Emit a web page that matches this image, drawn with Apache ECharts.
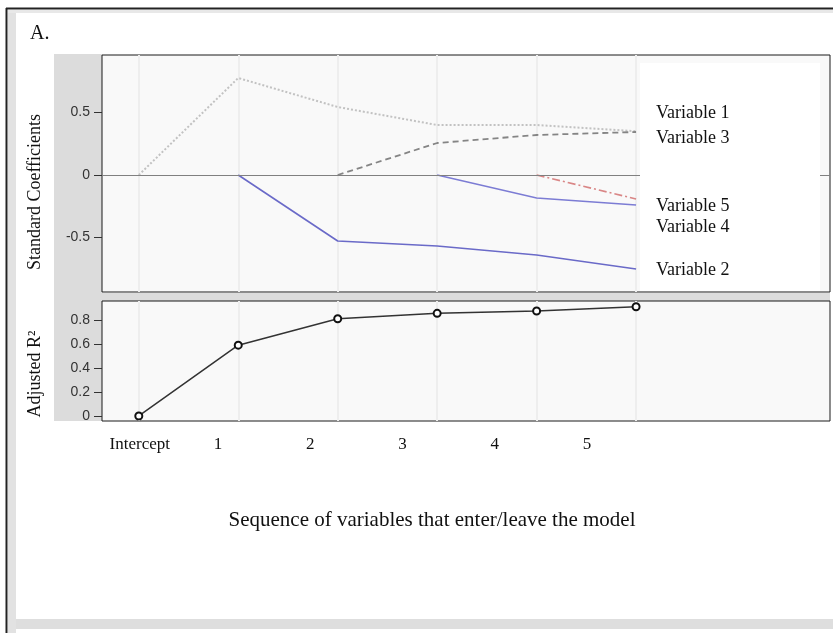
<!DOCTYPE html>
<html><head><meta charset="utf-8">
<script src="https://cdn.jsdelivr.net/npm/echarts@6/dist/echarts.min.js"></script>
<style>html,body{margin:0;padding:0;background:#fff}#c{width:833px;height:633px}</style>
</head><body><div id="c"></div>
<script>
// ---- data ----
const steps = [0, 1, 2, 3, 4, 5];
const tickLabels = ['Intercept', '1', '2', '3', '4', '5'];
const variable1 = [0, 0.776, 0.544, 0.40, 0.40, 0.35];
const variable2 = [null, 0, -0.528, -0.568, -0.64, -0.752];
const variable3 = [null, null, 0, 0.256, 0.32, 0.344];
const variable4 = [null, null, null, 0, -0.184, -0.24];
const variable5 = [null, null, null, null, 0, -0.192];
const adjR2 = [0, 0.59, 0.81, 0.855, 0.875, 0.91];
const coefTicks = [-0.5, 0, 0.5];
const r2Ticks = [0, 0.2, 0.4, 0.6, 0.8];
const labelOrder = ['Variable 1', 'Variable 3', 'Variable 5', 'Variable 4', 'Variable 2'];

const SERIF = '"Liberation Serif","Times New Roman",serif';
const SANS = '"Liberation Sans",Arial,sans-serif';

function pairs(vals) {
  const out = [];
  vals.forEach((v, i) => { if (v !== null) out.push([steps[i], v]); });
  return out;
}

const chart = echarts.init(document.getElementById('c'), null, {renderer: 'canvas'});

const hiddenX = (gi) => ({
  gridIndex: gi, type: 'value', min: -0.37, max: 6.95,
  axisLine: {show: false, onZero: false}, axisLabel: {show: false},
  axisTick: {show: false, customValues: steps},
  splitLine: {show: true, lineStyle: {color: '#eeeeee', width: 2}}
});

const yAx = (gi, min, max, ticks) => ({
  gridIndex: gi, type: 'value', min: min, max: max,
  axisLine: {show: false, onZero: false},
  axisTick: {show: true, length: 8, customValues: ticks, lineStyle: {color: '#333', width: 1}},
  axisLabel: {show: true, customValues: ticks, margin: 12, color: '#333', fontFamily: SANS, fontSize: 14},
  splitLine: {show: false}
});

const coefSeries = (name, vals, color, type, width) => ({
  name: name, type: 'line', xAxisIndex: 0, yAxisIndex: 0,
  data: pairs(vals), symbol: 'none', silent: true,
  lineStyle: {color: color, type: type, width: width}
});

const s1 = coefSeries('Variable 1', variable1, '#c2c2c2', 'dotted', 2);
s1.markLine = {silent: true, symbol: 'none', label: {show: false},
  lineStyle: {color: '#808080', type: 'solid', width: 1}, data: [{yAxis: 0}]};

const labelY = [113, 138, 206, 227, 270];

const option = {
  animation: false,
  backgroundColor: '#ffffff',
  grid: [
    {left: 102, top: 55, width: 728, height: 237, show: true, backgroundColor: '#f9f9f9', borderColor: '#1a1a1a', borderWidth: 1, outerBoundsMode: 'none'},
    {left: 102, top: 301, width: 728, height: 120, show: true, backgroundColor: '#f9f9f9', borderColor: '#1a1a1a', borderWidth: 1, outerBoundsMode: 'none'},
    {left: 125.75, top: 420, width: 461.25, height: 1, show: false, outerBoundsMode: 'none'}
  ],
  xAxis: [
    hiddenX(0),
    hiddenX(1),
    {gridIndex: 2, type: 'category', data: tickLabels, boundaryGap: false,
     axisLine: {show: false}, axisTick: {show: false}, splitLine: {show: false},
     axisLabel: {show: true, interval: 0, margin: 15, color: '#111', fontFamily: SERIF, fontSize: 17,
       formatter: (v, i) => i === 0 ? '{i|' + v + '}' : v,
       rich: {i: {fontFamily: SERIF, fontSize: 17, color: '#111', padding: [0, 0, 0, 28]}}}}
  ],
  yAxis: [
    yAx(0, -0.936, 0.96, coefTicks),
    yAx(1, -0.042, 0.958, r2Ticks),
    {gridIndex: 2, type: 'value', show: false}
  ],
  series: [
    s1,
    coefSeries('Variable 3', variable3, '#858585', [6, 4], 1.8),
    coefSeries('Variable 2', variable2, '#6a6ac8', 'solid', 1.6),
    coefSeries('Variable 4', variable4, '#7c7cd4', 'solid', 1.4),
    coefSeries('Variable 5', variable5, '#d98686', [8, 3, 2, 3], 1.6),
    {name: 'Adjusted R2', type: 'line', xAxisIndex: 1, yAxisIndex: 1,
     data: pairs(adjR2), symbol: 'circle', symbolSize: 7, silent: true,
     itemStyle: {color: '#ffffff', borderColor: '#111', borderWidth: 2},
     lineStyle: {color: '#333', width: 1.5}}
  ],
  graphic: [
    // outer frame
    {type: 'rect', shape: {x: 8, y: 10, width: 8, height: 623}, style: {fill: '#e2e2e2'}, z: -5},
    {type: 'rect', shape: {x: 8, y: 10, width: 825, height: 3}, style: {fill: '#e8e8e8'}, z: -5},
    {type: 'rect', shape: {x: 16, y: 619, width: 817, height: 10}, style: {fill: '#dedede'}, z: -5},
    {type: 'line', shape: {x1: 6.5, y1: 8, x2: 6.5, y2: 633}, style: {stroke: '#222', lineWidth: 2}, z: -4},
    {type: 'line', shape: {x1: 6, y1: 8.5, x2: 833, y2: 8.5}, style: {stroke: '#222', lineWidth: 2}, z: -4},
    // left axis band and panel gap
    {type: 'rect', shape: {x: 54, y: 54, width: 48, height: 367}, style: {fill: '#dcdcdc'}, z: -5},
    {type: 'rect', shape: {x: 102, y: 293, width: 728, height: 8}, style: {fill: '#dcdcdc'}, z: -5},
    // white label box
    {type: 'rect', shape: {x: 640, y: 63, width: 180, height: 228}, style: {fill: '#ffffff'}, z: 50},
    // texts
    {type: 'text', x: 30, y: 34, z: 60, style: {text: 'A.', font: '20px ' + SERIF, fill: '#111', align: 'left', textAlign: 'left', verticalAlign: 'middle', textVerticalAlign: 'middle'}},
    {type: 'text', x: 35, y: 192, rotation: Math.PI / 2, z: 60, style: {text: 'Standard Coefficients', font: '18px ' + SERIF, fill: '#111', align: 'center', textAlign: 'center', verticalAlign: 'middle', textVerticalAlign: 'middle'}},
    {type: 'text', x: 35, y: 374, rotation: Math.PI / 2, z: 60, style: {text: 'Adjusted R\u00B2', font: '18px ' + SERIF, fill: '#111', align: 'center', textAlign: 'center', verticalAlign: 'middle', textVerticalAlign: 'middle'}},
    {type: 'text', x: 432, y: 520, z: 60, style: {text: 'Sequence of variables that enter/leave the model', font: '21px ' + SERIF, fill: '#111', align: 'center', textAlign: 'center', verticalAlign: 'middle', textVerticalAlign: 'middle'}}
  ].concat(labelOrder.map((t, i) => ({
    type: 'text', x: 656, y: labelY[i], z: 60,
    style: {text: t, font: '18px ' + SERIF, fill: '#111', align: 'left', textAlign: 'left', verticalAlign: 'middle', textVerticalAlign: 'middle'}
  })))
};
chart.setOption(option);
</script>
</body></html>
